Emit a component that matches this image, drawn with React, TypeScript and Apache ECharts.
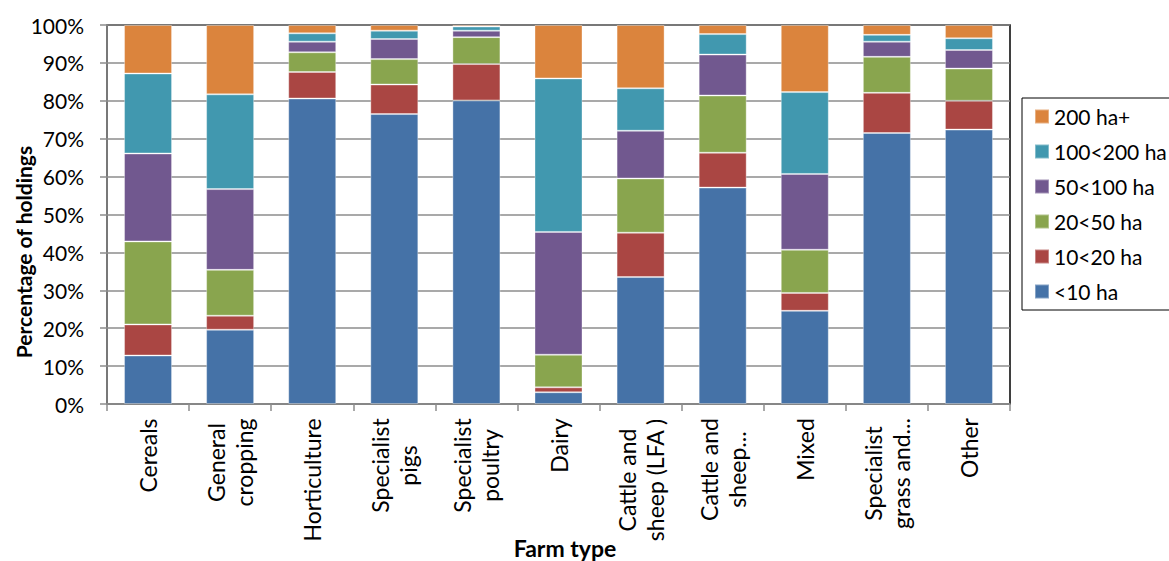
import React, { useEffect, useRef } from "react";
import * as echarts from "echarts";

// Farm types along the x axis
const farmTypes = [
  "Cereals",
  "General\ncropping",
  "Horticulture",
  "Specialist\npigs",
  "Specialist\npoultry",
  "Dairy",
  "Cattle and\nsheep (LFA )",
  "Cattle and\nsheep...",
  "Mixed",
  "Specialist\ngrass and...",
  "Other",
];

// Share of holdings (%) in each size band, per farm type
const under10 = [12.8, 19.6, 80.6, 76.5, 80.1, 3.1, 33.5, 57.1, 24.6, 71.5, 72.4];
const from10to20 = [8.2, 3.7, 7.0, 7.8, 9.6, 1.3, 11.7, 9.2, 4.7, 10.6, 7.6];
const from20to50 = [21.9, 12.1, 5.2, 6.7, 7.1, 8.6, 14.3, 15.1, 11.4, 9.5, 8.5];
const from50to100 = [23.2, 21.3, 2.8, 5.3, 1.7, 32.4, 12.6, 10.8, 20.0, 4.0, 4.9];
const from100to200 = [21.1, 25.0, 2.2, 2.2, 1.1, 40.5, 11.2, 5.4, 21.6, 1.8, 3.1];
const over200 = [12.8, 18.3, 2.2, 1.5, 0.4, 14.1, 16.7, 2.4, 17.7, 2.6, 3.5];

const bandNames = ["<10 ha", "10<20 ha", "20<50 ha", "50<100 ha", "100<200 ha", "200 ha+"];
const bandValues = [under10, from10to20, from20to50, from50to100, from100to200, over200];
const bandColors = ["#4572A7", "#AA4643", "#89A54E", "#71588F", "#4198AF", "#DB843D"];

const yTicks = [0, 10, 20, 30, 40, 50, 60, 70, 80, 90, 100];

const FONT = "Lato, 'Open Sans', sans-serif";
const X_LABEL_SIZE = 23;

// Width of the longest line of each category label, so that the
// shorter line can be centred against it.
function labelWidths(labels: string[]): number[] {
  const canvas = document.createElement("canvas");
  const ctx = canvas.getContext("2d");
  return labels.map((label) => {
    const lines = label.split("\n");
    if (!ctx) return 0;
    ctx.font = `${X_LABEL_SIZE}px ${FONT}`;
    return Math.ceil(Math.max(...lines.map((l) => ctx.measureText(l).width)));
  });
}

export default function App() {
  const ref = useRef<HTMLDivElement>(null);

  useEffect(() => {
    if (!ref.current) return;
    const chart = echarts.init(ref.current, undefined, { renderer: "svg" });

    const widths = labelWidths(farmTypes);
    const rich: Record<string, any> = {};
    widths.forEach((w, i) => {
      rich["c" + i] = {
        width: w,
        align: "center",
        fontFamily: FONT,
        fontSize: X_LABEL_SIZE,
        lineHeight: 28,
        color: "#000000",
      };
    });

    const series = bandNames.map((name, i) => ({
      name,
      type: "bar" as const,
      stack: "total",
      barWidth: 48,
      data: bandValues[i],
      itemStyle: {
        color: bandColors[i],
        borderColor: "rgba(255,255,255,0.35)",
        borderWidth: 1,
      },
    }));

    chart.setOption({
      animation: false,
      backgroundColor: "#ffffff",
      textStyle: { fontFamily: FONT },
      grid: {
        left: 107,
        right: 159,
        top: 25,
        bottom: 157,
        show: true,
        borderColor: "#000000",
        borderWidth: 1.5,
        backgroundColor: "transparent",
      },
      legend: {
        orient: "vertical",
        left: 1022,
        top: 98,
        padding: [8, 60, 8, 12],
        itemWidth: 14,
        itemHeight: 14,
        itemGap: 14,
        borderColor: "#000000",
        borderWidth: 1,
        icon: "rect",
        data: bandNames.slice().reverse(),
        textStyle: {
          fontFamily: FONT,
          fontSize: 21,
          lineHeight: 21,
          color: "#000000",
        },
      },
      xAxis: {
        type: "category",
        data: farmTypes,
        axisLine: { show: true, lineStyle: { color: "#8c8c8c", width: 1.5 } },
        axisTick: { show: true, length: 7, inside: false, lineStyle: { color: "#8c8c8c", width: 1.5 } },
        axisLabel: {
          rotate: 90,
          interval: 0,
          margin: 14,
          fontFamily: FONT,
          fontSize: X_LABEL_SIZE,
          lineHeight: 28,
          color: "#000000",
          formatter: (value: string, index: number) =>
            value
              .split("\n")
              .map((line) => `{c${index}|${line}}`)
              .join("\n"),
          rich,
        },
      },
      yAxis: {
        type: "value",
        min: yTicks[0],
        max: yTicks[yTicks.length - 1],
        interval: 10,
        axisLine: { show: true, lineStyle: { color: "#8c8c8c", width: 1.5 } },
        axisTick: { show: true, length: 7, inside: false, lineStyle: { color: "#8c8c8c", width: 1.5 } },
        splitLine: { show: true, lineStyle: { color: "#8c8c8c", width: 1.5 } },
        axisLabel: {
          formatter: "{value}%",
          margin: 23,
          fontFamily: FONT,
          fontSize: 21,
          color: "#000000",
        },
      },
      graphic: [
        {
          type: "text",
          x: 23,
          y: 252,
          rotation: Math.PI / 2,
          style: {
            text: "Percentage of holdings",
            fontFamily: FONT,
            fontWeight: "bold",
            fontSize: 21,
            fill: "#000000",
            align: "center",
            verticalAlign: "middle",
          },
        },
        {
          type: "text",
          x: 565,
          y: 548,
          style: {
            text: "Farm type",
            fontFamily: FONT,
            fontWeight: "bold",
            fontSize: 23,
            fill: "#000000",
            align: "center",
            verticalAlign: "middle",
          },
        },
      ],
      series,
    });

    return () => chart.dispose();
  }, []);

  return (
    <div
      ref={ref}
      style={{ position: "fixed", left: 0, top: 0, width: 1169, height: 561, background: "#fff" }}
    />
  );
}
